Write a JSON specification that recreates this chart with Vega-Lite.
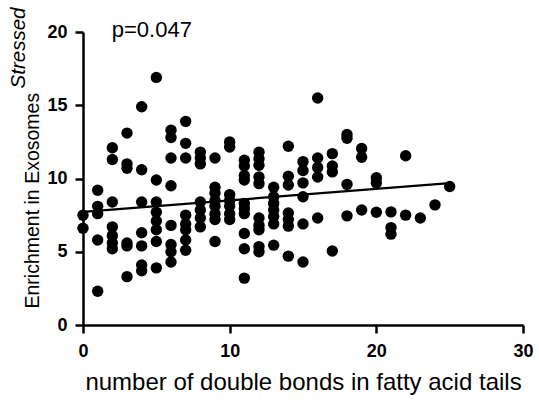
{
  "$schema": "https://vega.github.io/schema/vega-lite/v6.json",
  "width": 440,
  "height": 293,
  "autosize": {"type": "none"},
  "padding": {"left": 83, "top": 32, "right": 16, "bottom": 75},
  "background": "white",
  "config": {"view": {"stroke": null}, "font": "Liberation Sans"},
  "datasets": {
    "points": [
      {"bonds": 0, "enrichment": 7.5}, {"bonds": 0, "enrichment": 6.6},
      {"bonds": 1, "enrichment": 9.2}, {"bonds": 1, "enrichment": 8.1}, {"bonds": 1, "enrichment": 7.6}, {"bonds": 1, "enrichment": 5.8}, {"bonds": 1, "enrichment": 2.3},
      {"bonds": 2, "enrichment": 12.1}, {"bonds": 2, "enrichment": 11.3}, {"bonds": 2, "enrichment": 8.4}, {"bonds": 2, "enrichment": 6.7}, {"bonds": 2, "enrichment": 6.1}, {"bonds": 2, "enrichment": 5.6}, {"bonds": 2, "enrichment": 5.2},
      {"bonds": 3, "enrichment": 13.1}, {"bonds": 3, "enrichment": 11.0}, {"bonds": 3, "enrichment": 10.7}, {"bonds": 3, "enrichment": 5.6}, {"bonds": 3, "enrichment": 5.4}, {"bonds": 3, "enrichment": 3.3},
      {"bonds": 4, "enrichment": 14.9}, {"bonds": 4, "enrichment": 10.6}, {"bonds": 4, "enrichment": 8.4}, {"bonds": 4, "enrichment": 6.3}, {"bonds": 4, "enrichment": 5.4}, {"bonds": 4, "enrichment": 4.1}, {"bonds": 4, "enrichment": 3.7},
      {"bonds": 5, "enrichment": 16.9}, {"bonds": 5, "enrichment": 9.9}, {"bonds": 5, "enrichment": 8.4}, {"bonds": 5, "enrichment": 7.7}, {"bonds": 5, "enrichment": 7.1}, {"bonds": 5, "enrichment": 6.5}, {"bonds": 5, "enrichment": 5.7}, {"bonds": 5, "enrichment": 3.9},
      {"bonds": 6, "enrichment": 13.3}, {"bonds": 6, "enrichment": 12.8}, {"bonds": 6, "enrichment": 11.4}, {"bonds": 6, "enrichment": 9.5}, {"bonds": 6, "enrichment": 6.8}, {"bonds": 6, "enrichment": 5.5}, {"bonds": 6, "enrichment": 5.0}, {"bonds": 6, "enrichment": 4.3},
      {"bonds": 7, "enrichment": 13.9}, {"bonds": 7, "enrichment": 12.4}, {"bonds": 7, "enrichment": 11.4}, {"bonds": 7, "enrichment": 7.5}, {"bonds": 7, "enrichment": 6.9}, {"bonds": 7, "enrichment": 6.5}, {"bonds": 7, "enrichment": 5.8}, {"bonds": 7, "enrichment": 5.1},
      {"bonds": 8, "enrichment": 11.8}, {"bonds": 8, "enrichment": 11.4}, {"bonds": 8, "enrichment": 11.0}, {"bonds": 8, "enrichment": 8.4}, {"bonds": 8, "enrichment": 7.85}, {"bonds": 8, "enrichment": 7.3}, {"bonds": 8, "enrichment": 6.7},
      {"bonds": 9, "enrichment": 11.4}, {"bonds": 9, "enrichment": 9.4}, {"bonds": 9, "enrichment": 9.0}, {"bonds": 9, "enrichment": 8.5}, {"bonds": 9, "enrichment": 8.1}, {"bonds": 9, "enrichment": 7.6}, {"bonds": 9, "enrichment": 7.2}, {"bonds": 9, "enrichment": 5.7},
      {"bonds": 10, "enrichment": 12.5}, {"bonds": 10, "enrichment": 12.15}, {"bonds": 10, "enrichment": 8.9}, {"bonds": 10, "enrichment": 8.5}, {"bonds": 10, "enrichment": 8.1}, {"bonds": 10, "enrichment": 7.6}, {"bonds": 10, "enrichment": 7.2},
      {"bonds": 11, "enrichment": 11.25}, {"bonds": 11, "enrichment": 10.85}, {"bonds": 11, "enrichment": 10.2}, {"bonds": 11, "enrichment": 9.9}, {"bonds": 11, "enrichment": 8.3}, {"bonds": 11, "enrichment": 7.95}, {"bonds": 11, "enrichment": 7.6}, {"bonds": 11, "enrichment": 6.25}, {"bonds": 11, "enrichment": 5.2}, {"bonds": 11, "enrichment": 3.2},
      {"bonds": 12, "enrichment": 11.8}, {"bonds": 12, "enrichment": 11.35}, {"bonds": 12, "enrichment": 10.9}, {"bonds": 12, "enrichment": 10.1}, {"bonds": 12, "enrichment": 9.65}, {"bonds": 12, "enrichment": 7.3}, {"bonds": 12, "enrichment": 6.8}, {"bonds": 12, "enrichment": 6.5}, {"bonds": 12, "enrichment": 5.35}, {"bonds": 12, "enrichment": 5.0},
      {"bonds": 13, "enrichment": 9.4}, {"bonds": 13, "enrichment": 8.75}, {"bonds": 13, "enrichment": 8.3}, {"bonds": 13, "enrichment": 7.85}, {"bonds": 13, "enrichment": 7.4}, {"bonds": 13, "enrichment": 6.9}, {"bonds": 13, "enrichment": 5.45},
      {"bonds": 14, "enrichment": 12.2}, {"bonds": 14, "enrichment": 10.15}, {"bonds": 14, "enrichment": 9.55}, {"bonds": 14, "enrichment": 7.65}, {"bonds": 14, "enrichment": 7.2}, {"bonds": 14, "enrichment": 6.75}, {"bonds": 14, "enrichment": 4.7},
      {"bonds": 15, "enrichment": 11.15}, {"bonds": 15, "enrichment": 10.55}, {"bonds": 15, "enrichment": 9.7}, {"bonds": 15, "enrichment": 8.75}, {"bonds": 15, "enrichment": 6.9}, {"bonds": 15, "enrichment": 4.3},
      {"bonds": 16, "enrichment": 15.5}, {"bonds": 16, "enrichment": 11.4}, {"bonds": 16, "enrichment": 10.75}, {"bonds": 16, "enrichment": 10.1}, {"bonds": 16, "enrichment": 7.3},
      {"bonds": 17, "enrichment": 11.7}, {"bonds": 17, "enrichment": 10.85}, {"bonds": 17, "enrichment": 10.45}, {"bonds": 17, "enrichment": 5.05},
      {"bonds": 18, "enrichment": 13.0}, {"bonds": 18, "enrichment": 12.75}, {"bonds": 18, "enrichment": 9.6}, {"bonds": 18, "enrichment": 7.45},
      {"bonds": 19, "enrichment": 12.05}, {"bonds": 19, "enrichment": 11.45}, {"bonds": 19, "enrichment": 7.85},
      {"bonds": 20, "enrichment": 10.05}, {"bonds": 20, "enrichment": 9.7}, {"bonds": 20, "enrichment": 7.7},
      {"bonds": 21, "enrichment": 7.72}, {"bonds": 21, "enrichment": 6.65}, {"bonds": 21, "enrichment": 6.2},
      {"bonds": 22, "enrichment": 11.55}, {"bonds": 22, "enrichment": 7.5},
      {"bonds": 23, "enrichment": 7.3},
      {"bonds": 24, "enrichment": 8.2},
      {"bonds": 25, "enrichment": 9.45}
    ]
  },
  "layer": [
    {
      "data": {"name": "points"},
      "mark": {"type": "point", "filled": true, "shape": "circle", "size": 130, "color": "black", "opacity": 1},
      "encoding": {
        "x": {
          "field": "bonds", "type": "quantitative",
          "scale": {"domain": [0, 30], "nice": false, "zero": false},
          "axis": {
            "values": [0, 10, 20, 30], "grid": false,
            "title": "number of double bonds in fatty acid tails",
            "titleFontSize": 24, "titleFontWeight": "normal", "titleColor": "black", "titlePadding": 10,
            "labelFontSize": 18, "labelFontWeight": "bold", "labelColor": "black", "labelPadding": 9, "labelFlush": false,
            "tickSize": 8, "tickWidth": 2.5, "tickColor": "black",
            "domainColor": "black", "domainWidth": 2.5
          }
        },
        "y": {
          "field": "enrichment", "type": "quantitative",
          "scale": {"domain": [0, 20], "nice": false},
          "axis": {
            "values": [0, 5, 10, 15, 20], "grid": false,
            "title": "Enrichment in Exosomes",
            "titleFontSize": 19.5, "titleFontWeight": "normal", "titleColor": "black",
            "titleX": -45, "titleY": 276, "titleAngle": 270, "titleAlign": "left", "titleBaseline": "alphabetic",
            "labelFontSize": 18, "labelFontWeight": "bold", "labelColor": "black", "labelPadding": 8, "labelFlush": false,
            "tickSize": 8, "tickWidth": 2.5, "tickColor": "black",
            "domainColor": "black", "domainWidth": 2.5
          }
        }
      }
    },
    {
      "data": {"name": "points"},
      "transform": [{"regression": "enrichment", "on": "bonds", "extent": [0, 25]}],
      "mark": {"type": "line", "color": "black", "strokeWidth": 2.2},
      "encoding": {
        "x": {"field": "bonds", "type": "quantitative"},
        "y": {"field": "enrichment", "type": "quantitative"}
      }
    },
    {
      "data": {"values": [{"label": "p=0.047", "x": 1.96, "y": 19.63}]},
      "mark": {"type": "text", "align": "left", "baseline": "alphabetic", "fontSize": 22, "color": "black"},
      "encoding": {
        "x": {"field": "x", "type": "quantitative"},
        "y": {"field": "y", "type": "quantitative"},
        "text": {"field": "label"}
      }
    },
    {
      "data": {"values": [{"label": "Stressed", "x": -3.95, "y": 16.15}]},
      "mark": {"type": "text", "align": "left", "baseline": "alphabetic", "angle": 270, "fontSize": 20.5, "fontStyle": "italic", "color": "black"},
      "encoding": {
        "x": {"field": "x", "type": "quantitative"},
        "y": {"field": "y", "type": "quantitative"},
        "text": {"field": "label"}
      }
    }
  ]
}
